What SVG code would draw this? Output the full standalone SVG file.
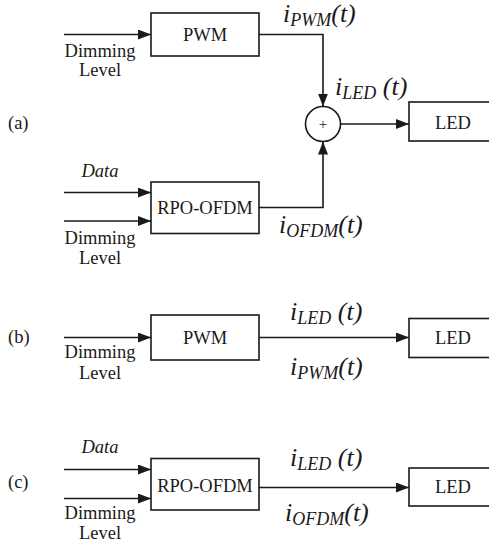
<svg xmlns="http://www.w3.org/2000/svg" width="489" height="546" viewBox="0 0 489 546">
<defs>
<marker id="ah" markerWidth="14" markerHeight="10" refX="13" refY="5" orient="auto" markerUnits="userSpaceOnUse">
<path d="M0,0 L13,5 L0,10 Z" fill="#1a1a1a"/>
</marker>
<style>
.box{fill:#fff;stroke:#1a1a1a;stroke-width:1.6}
.ln{fill:none;stroke:#1a1a1a;stroke-width:1.6}
.arr{fill:none;stroke:#1a1a1a;stroke-width:1.6;marker-end:url(#ah)}
.t{font-family:"Liberation Serif","Times New Roman",serif;font-size:18.5px;fill:#1a1a1a}
.c{text-anchor:middle}
.it{font-style:italic}
.lab{font-family:"Liberation Serif","Times New Roman",serif;font-style:italic;font-size:26px;fill:#1a1a1a}
.sub{font-size:18px}
</style>
</defs>
<rect width="489" height="546" fill="#fff"/>

<g id="connectors">
<!-- (a) -->
<line class="arr" x1="64" y1="34.5" x2="151" y2="34.5"/>
<polyline class="arr" points="259,34.5 323,34.5 323,106.5"/>
<line class="arr" x1="64" y1="192.5" x2="151" y2="192.5"/>
<line class="arr" x1="64" y1="221" x2="151" y2="221"/>
<polyline class="arr" points="259,207.5 323,207.5 323,141.5"/>
<line class="arr" x1="340.5" y1="124" x2="409" y2="124"/>
<!-- (b) -->
<line class="arr" x1="64" y1="337.5" x2="151" y2="337.5"/>
<line class="arr" x1="259" y1="337.5" x2="409" y2="337.5"/>
<!-- (c) -->
<line class="arr" x1="64" y1="469.5" x2="151" y2="469.5"/>
<line class="arr" x1="64" y1="498.5" x2="151" y2="498.5"/>
<line class="arr" x1="259" y1="487.5" x2="409" y2="487.5"/>
</g>

<!-- (a) -->
<text class="t" x="8" y="129">(a)</text>
<g id="a-pwm">
<rect class="box" x="151" y="13" width="108" height="43"/>
<text class="t c" x="205" y="40.5">PWM</text>
</g>
<g id="a-dim1">
<text class="t c" x="100" y="57">Dimming</text>
<text class="t c" x="100" y="76">Level</text>
</g>
<g id="a-ipwm">
<text class="lab" x="283" y="22">i<tspan class="sub" dy="4">PWM</tspan><tspan dy="-4">(t)</tspan></text>
</g>
<g id="a-iled">
<text class="lab" x="335" y="95">i<tspan class="sub" dy="4">LED</tspan><tspan dy="-4"> (t)</tspan></text>
</g>
<g id="a-sum">
<circle class="box" cx="323" cy="124" r="17.5"/>
<text class="t c" x="323" y="129" style="font-size:15px">+</text>
</g>
<g id="a-led">
<rect class="box" x="409" y="102" width="100" height="39"/>
<text class="t c" x="453" y="128.5">LED</text>
</g>
<g id="a-data">
<text class="t c it" x="100" y="177">Data</text>
</g>
<g id="a-rpo">
<rect class="box" x="151" y="182" width="108" height="51.5"/>
<text class="t c" x="205" y="214">RPO-OFDM</text>
</g>
<g id="a-dim2">
<text class="t c" x="100" y="244">Dimming</text>
<text class="t c" x="100" y="264">Level</text>
</g>
<g id="a-iofdm">
<text class="lab" x="279" y="233">i<tspan class="sub" dy="4">OFDM</tspan><tspan dy="-4">(t)</tspan></text>
</g>

<!-- (b) -->
<text class="t" x="8" y="343">(b)</text>
<g id="b-pwm">
<rect class="box" x="151" y="315" width="108" height="45"/>
<text class="t c" x="205" y="344">PWM</text>
</g>
<g id="b-dim">
<text class="t c" x="100" y="358">Dimming</text>
<text class="t c" x="100" y="379">Level</text>
</g>
<g id="b-iled">
<text class="lab" x="290" y="320">i<tspan class="sub" dy="4">LED</tspan><tspan dy="-4"> (t)</tspan></text>
</g>
<g id="b-ipwm">
<text class="lab" x="290" y="375">i<tspan class="sub" dy="4">PWM</tspan><tspan dy="-4">(t)</tspan></text>
</g>
<g id="b-led">
<rect class="box" x="409" y="318.5" width="100" height="39"/>
<text class="t c" x="453" y="344">LED</text>
</g>

<!-- (c) -->
<text class="t" x="8" y="488">(c)</text>
<g id="c-data">
<text class="t c it" x="100" y="453">Data</text>
</g>
<g id="c-rpo">
<rect class="box" x="151" y="458.5" width="108" height="51.5"/>
<text class="t c" x="205" y="491.5">RPO-OFDM</text>
</g>
<g id="c-dim">
<text class="t c" x="100" y="519">Dimming</text>
<text class="t c" x="100" y="539">Level</text>
</g>
<g id="c-iled">
<text class="lab" x="290" y="466">i<tspan class="sub" dy="4">LED</tspan><tspan dy="-4"> (t)</tspan></text>
</g>
<g id="c-iofdm">
<text class="lab" x="285" y="521">i<tspan class="sub" dy="4">OFDM</tspan><tspan dy="-4">(t)</tspan></text>
</g>
<g id="c-led">
<rect class="box" x="409" y="468" width="100" height="38"/>
<text class="t c" x="453" y="493">LED</text>
</g>
</svg>
